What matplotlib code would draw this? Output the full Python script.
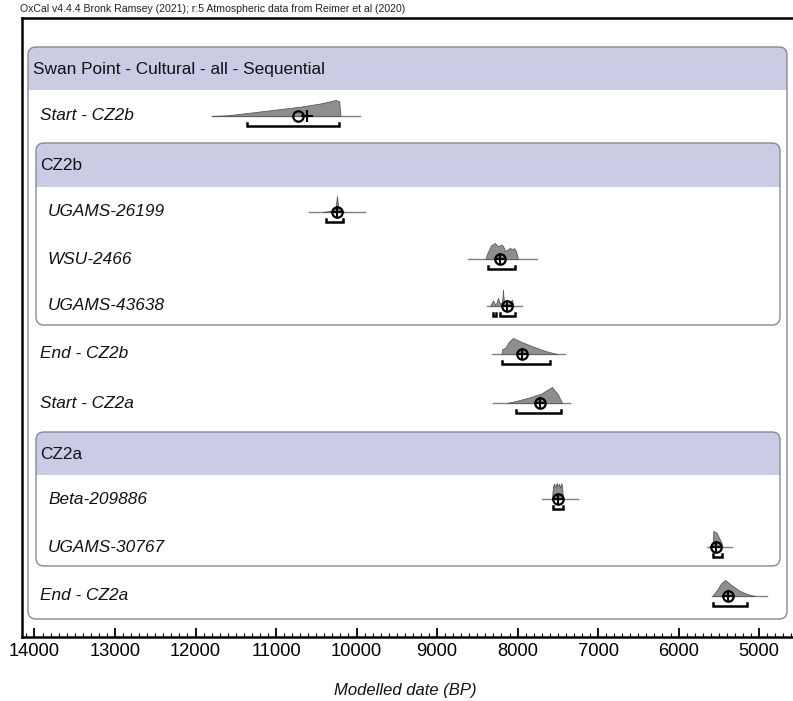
import matplotlib
matplotlib.use("Agg")
import matplotlib.pyplot as plt
from matplotlib.patches import FancyBboxPatch, Rectangle
from matplotlib.ticker import MultipleLocator

plt.rcParams['font.family'] = ['Liberation Sans', 'DejaVu Sans']
NARROW = ['Liberation Sans Narrow', 'Liberation Sans', 'DejaVu Sans']

# ---------------- data (years BP) ----------------
title = "OxCal v4.4.4 Bronk Ramsey (2021); r:5 Atmospheric data from Reimer et al (2020)"
group_names = ["Swan Point - Cultural - all - Sequential", "CZ2b", "CZ2a"]
row_labels = ["Start - CZ2b", "UGAMS-26199", "WSU-2466", "UGAMS-43638",
              "End - CZ2b", "Start - CZ2a", "Beta-209886", "UGAMS-30767", "End - CZ2a"]

start_cz2b_years = [11800, 11610, 11300, 11000, 10700, 10450, 10340, 10260, 10215, 10200]
start_cz2b_prob = [0, 0.04, 0.22, 0.40, 0.58, 0.78, 0.90, 1.00, 0.92, 0]
ugams26199_years = [10420, 10350, 10290, 10262, 10250, 10243, 10236, 10225, 10190, 10150]
ugams26199_prob = [0, 0.05, 0.10, 0.25, 0.70, 1.00, 0.70, 0.20, 0.05, 0]
wsu2466_years = [8400, 8380, 8330, 8281, 8250, 8220, 8194, 8170, 8156, 8120, 8094, 8070, 8045, 8020, 7995]
wsu2466_prob = [0, 0.30, 0.85, 1.00, 0.80, 0.85, 0.90, 0.70, 0.50, 0.60, 0.70, 0.60, 0.68, 0.50, 0]
ugams43638_years = [8340, 8305, 8280, 8260, 8243, 8220, 8195, 8186, 8181, 8176, 8165, 8130, 8100, 8069, 8050]
ugams43638_prob = [0, 0.35, 0.10, 0.20, 0.50, 0.15, 0.20, 0.60, 1.00, 0.60, 0.15, 0.10, 0.20, 0.40, 0]
end_cz2b_years = [8200, 8190, 8150, 8110, 8057, 7950, 7800, 7650, 7510]
end_cz2b_prob = [0, 0.30, 0.40, 0.75, 1.00, 0.75, 0.45, 0.18, 0]
start_cz2a_years = [8132, 8000, 7850, 7700, 7573, 7500, 7448]
start_cz2a_prob = [0, 0.15, 0.35, 0.60, 1.00, 0.55, 0]
beta209886_years = [7572, 7560, 7545, 7530, 7515, 7500, 7485, 7470, 7455, 7445, 7436]
beta209886_prob = [0, 0.80, 0.95, 0.70, 1.00, 0.80, 0.95, 0.70, 1.00, 0.60, 0]
ugams30767_years = [5578, 5568, 5550, 5530, 5510, 5490, 5470, 5460]
ugams30767_prob = [0, 1.00, 0.95, 0.90, 0.70, 0.50, 0.30, 0]
end_cz2a_years = [5580, 5520, 5470, 5422, 5350, 5250, 5150, 5050]
end_cz2a_prob = [0, 0.40, 0.80, 1.00, 0.70, 0.35, 0.12, 0]

# extent of the plotted baseline for each row
baseline_from = [11800, 10590, 8616, 8380, 8318, 8306, 7697, 5646, 5585]
baseline_to = [9957, 9895, 7759, 7945, 7411, 7349, 7250, 5336, 4901]
# means and medians
means = [10727, 10243, 8219, 8131, 7945, 7722, 7498, 5534, 5385]
medians = [10620, 10243, 8219, 8131, 7945, 7722, 7498, 5534, 5385]
# 95.4% ranges (one or more intervals per row)
ranges95 = [[(11361, 10218)], [(10380, 10168)], [(8368, 8032)],
            [(8305, 8268), (8219, 8032)], [(8194, 7597)], [(8020, 7461)],
            [(7560, 7436)], [(5571, 5460)], [(5571, 5149)]]

dist_years = [start_cz2b_years, ugams26199_years, wsu2466_years, ugams43638_years,
              end_cz2b_years, start_cz2a_years, beta209886_years, ugams30767_years, end_cz2a_years]
dist_prob = [start_cz2b_prob, ugams26199_prob, wsu2466_prob, ugams43638_prob,
             end_cz2b_prob, start_cz2a_prob, beta209886_prob, ugams30767_prob, end_cz2a_prob]

# ---------------- layout (pixels) ----------------
W, H = 793, 701
fig = plt.figure(figsize=(W / 100, H / 100), dpi=100)

lay = fig.add_axes([0, 0, 1, 1])
lay.set_xlim(0, W)
lay.set_ylim(H, 0)
lay.axis('off')

ax_left, ax_top, ax_bottom = 22, 18, 637
ax = fig.add_axes([ax_left / W, (H - ax_bottom) / H, (W - ax_left) / W, (ax_bottom - ax_top) / H])
ax.set_facecolor('none')
ax.set_xlim(14155, 4579)
ax.set_ylim(ax_bottom, ax_top)

HEADER = '#c9cce4'
EDGE = '#8a8a8a'


def group_box(x0, y0, x1, y1, header_bottom, name, label_x):
    box = FancyBboxPatch((x0, y0), x1 - x0, y1 - y0,
                         boxstyle="round,pad=0,rounding_size=8",
                         facecolor='white', edgecolor='none', zorder=1)
    lay.add_patch(box)
    band = Rectangle((x0, y0), x1 - x0, header_bottom - y0, facecolor=HEADER,
                     edgecolor='none', zorder=2)
    band.set_clip_path(box)
    lay.add_patch(band)
    lay.add_patch(FancyBboxPatch((x0, y0), x1 - x0, y1 - y0,
                                 boxstyle="round,pad=0,rounding_size=8",
                                 facecolor='none', edgecolor=EDGE, lw=1.0, zorder=3))
    lay.text(label_x, (y0 + header_bottom) / 2 + 1, name, fontsize=12.4,
             ha='left', va='center', color='#111111', zorder=4)


group_box(28, 47, 787, 619, 90, group_names[0], 33)
group_box(36, 143, 780, 325, 187, group_names[1], 40)
group_box(36, 432, 780, 566, 475, group_names[2], 40)

row_y = [115, 211, 258, 305, 353, 402, 498, 546, 595]
row_x = [40, 48, 48, 48, 40, 40, 48, 48, 40]
for lab, xl, yl in zip(row_labels, row_x, row_y):
    lay.text(xl, yl + 1, lab, fontsize=12.4, style='italic', ha='left', va='center',
             color='#111111', zorder=4)

# ---------------- distributions ----------------
PEAK = 16  # pixel height of a distribution's maximum
for i, yb in enumerate(row_y):
    yb0 = yb + 1
    ax.plot([baseline_from[i], baseline_to[i]], [yb0, yb0], color='#808080', lw=1.0, zorder=3)
    tops = [yb0 - p * PEAK for p in dist_prob[i]]
    ax.fill_between(dist_years[i], yb0, tops, facecolor='#8e8e8e', edgecolor='#5a5a5a',
                    lw=0.6, zorder=4)
    ax.plot([medians[i]], [yb0], marker='+', ms=8, mew=1.5, color='black', zorder=6)
    ax.plot([means[i]], [yb0], marker='o', ms=7.5, mfc='none', mec='black', mew=1.6, zorder=6)
    ybr = yb0 + 10
    for a, b in ranges95[i]:
        ax.plot([a, a, b, b], [ybr - 3, ybr, ybr, ybr - 3], color='black', lw=1.8,
                solid_joinstyle='miter', zorder=5)

# ---------------- axes styling ----------------
ax.spines['right'].set_visible(False)
for side in ('left', 'top', 'bottom'):
    ax.spines[side].set_linewidth(1.8)
ax.set_yticks([])
ax.xaxis.set_major_locator(MultipleLocator(1000))
ax.xaxis.set_minor_locator(MultipleLocator(100))
ax.tick_params(axis='x', which='major', direction='in', length=6.5, width=1.3,
               labelsize=13.2, pad=4, labelfontfamily=NARROW)
ax.tick_params(axis='x', which='minor', direction='in', length=3, width=0.8)
ax.set_xticks(range(14000, 4999, -1000))
ax.set_xticklabels([str(v) for v in range(14000, 4999, -1000)])

lay.text(20, 13.5, title, fontsize=7.6, family=NARROW, ha='left', va='bottom', color='#222222')
lay.text(405, 690, "Modelled date (BP)", fontsize=12, family=NARROW, style='italic',
         ha='center', va='center', color='#111111')

fig.savefig('out.png', dpi=100)
